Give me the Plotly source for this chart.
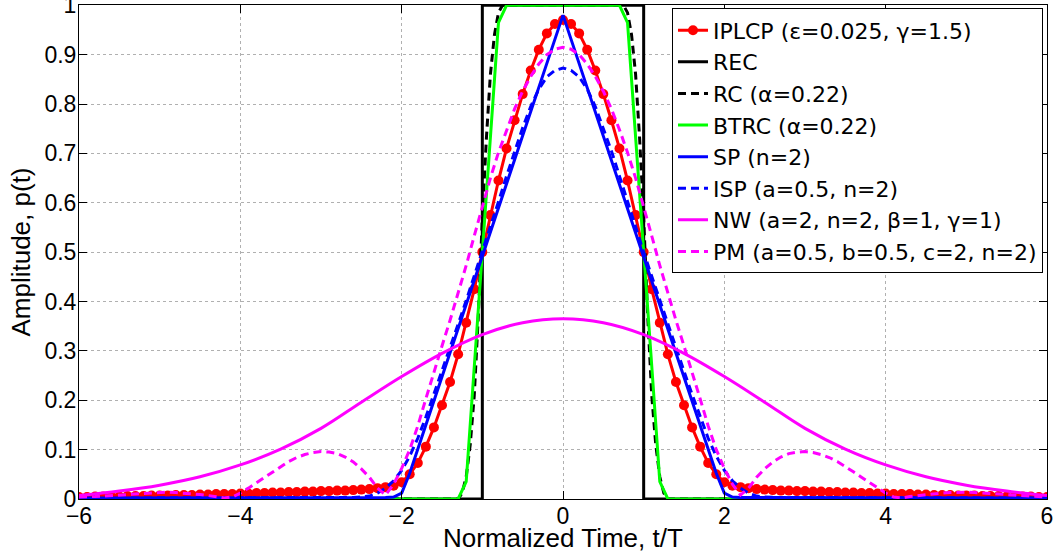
import plotly.graph_objects as go

# Shared sampling grid of normalized time t/T (step 0.1)
T = [round(i / 10, 1) for i in range(-60, 61)]

# IPLCP (eps=0.025, gamma=1.5) on grid T
IPLCP = [
    0.004, 0.004, 0.005, 0.005, 0.005, 0.005, 0.006, 0.006, 0.006, 0.007,
    0.007, 0.007, 0.008, 0.008, 0.008, 0.009, 0.009, 0.010, 0.010, 0.010,
    0.011, 0.011, 0.012, 0.012, 0.013, 0.013, 0.014, 0.014, 0.015, 0.015,
    0.016, 0.016, 0.017, 0.017, 0.018, 0.019, 0.020, 0.022, 0.024, 0.027,
    0.034, 0.050, 0.073, 0.106, 0.145, 0.190, 0.237, 0.293, 0.357, 0.425,
    0.500, 0.575, 0.645, 0.710, 0.767, 0.820, 0.868, 0.910, 0.943, 0.962,
    0.970,
    0.962, 0.943, 0.910, 0.868, 0.820, 0.767, 0.710, 0.645, 0.575, 0.500,
    0.425, 0.357, 0.293, 0.237, 0.190, 0.145, 0.106, 0.073, 0.050, 0.034,
    0.027, 0.024, 0.022, 0.020, 0.019, 0.018, 0.017, 0.017, 0.016, 0.016,
    0.015, 0.015, 0.014, 0.014, 0.013, 0.013, 0.012, 0.012, 0.011, 0.011,
    0.010, 0.010, 0.010, 0.009, 0.009, 0.008, 0.008, 0.008, 0.007, 0.007,
    0.007, 0.006, 0.006, 0.006, 0.005, 0.005, 0.005, 0.005, 0.004, 0.004,
]

# ISP (a=0.5, n=2) on grid T
ISP = [
    0.002, 0.002, 0.002, 0.002, 0.002, 0.002, 0.002, 0.002, 0.002, 0.002,
    0.002, 0.002, 0.002, 0.002, 0.002, 0.002, 0.002, 0.002, 0.002, 0.002,
    0.002, 0.002, 0.002, 0.002, 0.003, 0.003, 0.003, 0.003, 0.003, 0.003,
    0.003, 0.003, 0.003, 0.003, 0.003, 0.004, 0.006, 0.012, 0.022, 0.037,
    0.058, 0.087, 0.123, 0.166, 0.212, 0.259, 0.306, 0.354, 0.402, 0.451,
    0.500, 0.551, 0.602, 0.654, 0.705, 0.752, 0.795, 0.830, 0.855, 0.868,
    0.873,
    0.868, 0.855, 0.830, 0.795, 0.752, 0.705, 0.654, 0.602, 0.551, 0.500,
    0.451, 0.402, 0.354, 0.306, 0.259, 0.212, 0.166, 0.123, 0.087, 0.058,
    0.037, 0.022, 0.012, 0.006, 0.004, 0.003, 0.003, 0.003, 0.003, 0.003,
    0.003, 0.003, 0.003, 0.003, 0.003, 0.003, 0.002, 0.002, 0.002, 0.002,
    0.002, 0.002, 0.002, 0.002, 0.002, 0.002, 0.002, 0.002, 0.002, 0.002,
    0.002, 0.002, 0.002, 0.002, 0.002, 0.002, 0.002, 0.002, 0.002, 0.002,
]

# PM (a=0.5, b=0.5, c=2, n=2) on grid T
PM = [
    0.004, 0.004, 0.005, 0.006, 0.007, 0.008, 0.009, 0.011, 0.012, 0.013,
    0.014, 0.014, 0.013, 0.012, 0.011, 0.009, 0.007, 0.005, 0.002, 0.004,
    0.012, 0.022, 0.033, 0.044, 0.055, 0.066, 0.076, 0.084, 0.090, 0.094,
    0.096, 0.095, 0.092, 0.085, 0.075, 0.061, 0.044, 0.022, 0.008, 0.030,
    0.062, 0.100, 0.148, 0.203, 0.258, 0.310, 0.362, 0.416, 0.473, 0.533,
    0.593, 0.650, 0.702, 0.748, 0.790, 0.826, 0.856, 0.881, 0.900, 0.911,
    0.915,
    0.911, 0.900, 0.881, 0.856, 0.826, 0.790, 0.748, 0.702, 0.650, 0.593,
    0.533, 0.473, 0.416, 0.362, 0.310, 0.258, 0.203, 0.148, 0.100, 0.062,
    0.030, 0.008, 0.022, 0.044, 0.061, 0.075, 0.085, 0.092, 0.095, 0.096,
    0.094, 0.090, 0.084, 0.076, 0.066, 0.055, 0.044, 0.033, 0.022, 0.012,
    0.004, 0.002, 0.005, 0.007, 0.009, 0.011, 0.012, 0.013, 0.014, 0.014,
    0.013, 0.012, 0.011, 0.009, 0.008, 0.007, 0.006, 0.005, 0.004, 0.004,
]

# REC
REC_t = [-6, -1, -1, 1, 1, 6]
REC = [0, 0, 1, 1, 0, 0]

# RC (alpha=0.22)
RC_t = [-6, -1.3, -1.25, -1.2, -1.15, -1.1, -1.05, -1.0, -0.95, -0.9, -0.85, -0.8, -0.75,
        0.75, 0.8, 0.85, 0.9, 0.95, 1.0, 1.05, 1.1, 1.15, 1.2, 1.25, 1.3, 6]
RC = [0, 0, 0.012, 0.045, 0.11, 0.21, 0.37, 0.57, 0.73, 0.86, 0.94, 0.985, 1.0,
      1.0, 0.985, 0.94, 0.86, 0.73, 0.57, 0.37, 0.21, 0.11, 0.045, 0.012, 0, 0]

# BTRC (alpha=0.22)
BTRC_t = [-6, -1.3, -1.2, -1.1, -1.0, -0.9, -0.8, -0.7, 0.7, 0.8, 0.9, 1.0, 1.1, 1.2, 1.3, 6]
BTRC = [0, 0, 0.035, 0.27, 0.5, 0.74, 0.965, 1.0, 1.0, 0.965, 0.74, 0.5, 0.27, 0.035, 0, 0]

# SP (n=2)
SP_t = [-6, -4, -3, -2.2, -2.1, -2.0, -1.9, -1.0, 0, 1.0, 1.9, 2.0, 2.1, 2.2, 3, 4, 6]
SP = [0.002, 0.002, 0.003, 0.003, 0.004, 0.012, 0.052, 0.49, 0.98, 0.49, 0.052, 0.012,
      0.004, 0.003, 0.003, 0.002, 0.002]

# NW (a=2, n=2, beta=1, gamma=1)
NW_t = [-6, -5.5, -5, -4.5, -4, -3.5, -3, -2.5, -2, -1.5, -1, -0.5, 0,
        0.5, 1, 1.5, 2, 2.5, 3, 3.5, 4, 4.5, 5, 5.5, 6]
NW = [0.007, 0.016, 0.028, 0.045, 0.069, 0.101, 0.143, 0.196, 0.248, 0.295, 0.333, 0.357, 0.365,
      0.357, 0.333, 0.295, 0.248, 0.196, 0.143, 0.101, 0.069, 0.045, 0.028, 0.016, 0.007]

X_TICKS = [-6, -4, -2, 0, 2, 4, 6]
Y_TICKS = [0, 0.1, 0.2, 0.3, 0.4, 0.5, 0.6, 0.7, 0.8, 0.9, 1]

LW = 3
DASH = "8px,5px"

fig = go.Figure()
fig.add_trace(go.Scatter(x=T, y=IPLCP, mode="lines+markers", name="IPLCP (ε=0.025, γ=1.5)",
                         line=dict(color="#ff0000", width=LW),
                         marker=dict(color="#ff0000", size=10, line=dict(width=0))))
fig.add_trace(go.Scatter(x=REC_t, y=REC, mode="lines", name="REC",
                         line=dict(color="#000000", width=LW)))
fig.add_trace(go.Scatter(x=RC_t, y=RC, mode="lines", name="RC (α=0.22)",
                         line=dict(color="#000000", width=LW, dash=DASH)))
fig.add_trace(go.Scatter(x=BTRC_t, y=BTRC, mode="lines", name="BTRC (α=0.22)",
                         line=dict(color="#00ff00", width=LW)))
fig.add_trace(go.Scatter(x=SP_t, y=SP, mode="lines", name="SP (n=2)",
                         line=dict(color="#0000ff", width=LW)))
fig.add_trace(go.Scatter(x=T, y=ISP, mode="lines", name="ISP (a=0.5, n=2)",
                         line=dict(color="#0000ff", width=LW, dash=DASH)))
fig.add_trace(go.Scatter(x=NW_t, y=NW, mode="lines", name="NW (a=2, n=2, β=1, γ=1)",
                         line=dict(color="#ff00ff", width=LW, shape="spline")))
fig.add_trace(go.Scatter(x=T, y=PM, mode="lines", name="PM (a=0.5, b=0.5, c=2, n=2)",
                         line=dict(color="#ff00ff", width=LW, dash=DASH)))

axis_common = dict(
    showline=True, linecolor="black", linewidth=1, mirror="ticks",
    ticks="inside", ticklen=8, tickcolor="black", tickwidth=1,
    showgrid=True, gridcolor="#b0b0b0", griddash="dot", gridwidth=1,
    zeroline=False, automargin=False, ticklabeloverflow="allow",
)

fig.update_layout(
    width=1062, height=558,
    margin=dict(l=79, r=15, t=5, b=59),
    plot_bgcolor="white", paper_bgcolor="white",
    font=dict(family="Liberation Sans, Arial, sans-serif", size=23, color="black"),
    xaxis=dict(range=[-6, 6], tickvals=X_TICKS, ticklabelstandoff=-4, **axis_common),
    yaxis=dict(range=[0, 1.0005], tickvals=Y_TICKS, ticklabelstandoff=-3,
               title=dict(text="Amplitude, p(t)", standoff=6, font=dict(size=26)),
               **axis_common),
    legend=dict(x=0.6126, y=0.993, xanchor="left", yanchor="top",
                bgcolor="white", bordercolor="black", borderwidth=1,
                font=dict(family="DejaVu Sans, sans-serif", size=22), tracegroupgap=0),
    showlegend=True,
)

fig.add_annotation(text="Normalized Time, t/T", xref="paper", yref="paper",
                   x=0.5, y=0, xanchor="center", yanchor="middle", yshift=-39,
                   showarrow=False, font=dict(size=26))

fig.write_html("out.html", config={"displayModeBar": False},
               post_script="document.body.style.margin='0px';")
